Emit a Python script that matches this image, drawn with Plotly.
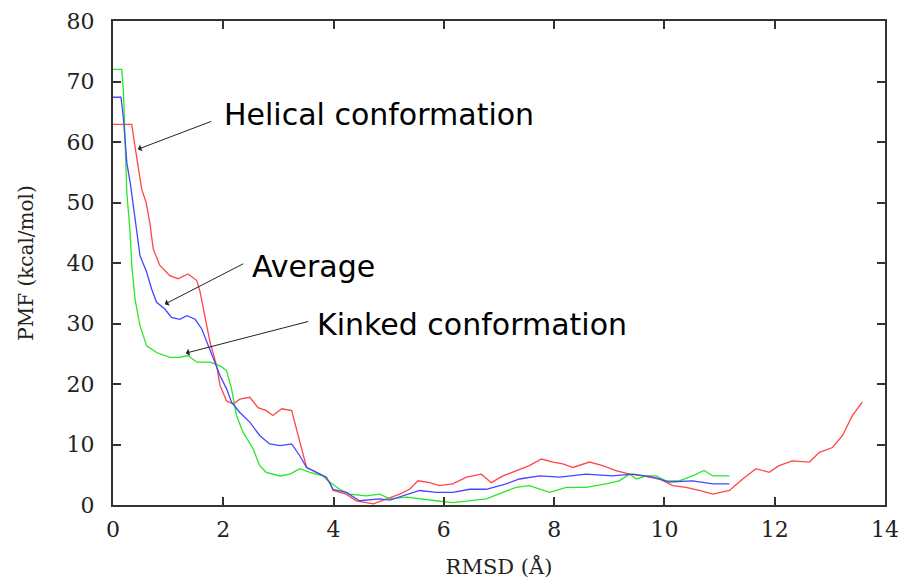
import plotly.graph_objects as go

# Helical conformation (red)
helical_x = [0, 0.34, 0.40, 0.52, 0.60, 0.67, 0.73, 0.85, 1.03, 1.18, 1.36, 1.52, 1.58, 1.70, 1.76, 1.88, 1.94,
             2.06, 2.18, 2.30, 2.48, 2.63, 2.78, 2.90, 3.06, 3.24, 3.33, 3.42, 3.51, 3.63, 3.81, 3.93, 3.99,
             4.23, 4.41, 4.72, 4.96, 5.20, 5.38, 5.53, 5.74, 5.92, 6.16, 6.41, 6.68, 6.86, 7.07, 7.31, 7.55,
             7.77, 7.98, 8.16, 8.34, 8.64, 8.88, 9.12, 9.37, 9.61, 9.91, 10.15, 10.39, 10.63, 10.88, 11.18,
             11.42, 11.66, 11.90, 12.08, 12.32, 12.63, 12.81, 13.05, 13.23, 13.41, 13.59]
helical_y = [62.9, 62.9, 59.2, 52.2, 50.0, 46.5, 42.3, 39.6, 37.9, 37.4, 38.2, 37.1, 35.2, 29.6, 26.9, 23.0, 19.8,
             17.2, 16.7, 17.5, 17.8, 16.1, 15.6, 14.8, 15.9, 15.6, 12.6, 9.3, 6.2, 5.7, 4.8, 3.8, 2.4,
             1.8, 0.7, 0.2, 1.0, 1.8, 2.6, 4.0, 3.7, 3.2, 3.5, 4.6, 5.1, 3.7, 4.8, 5.7, 6.5,
             7.6, 7.1, 6.8, 6.2, 7.1, 6.5, 5.7, 5.1, 4.8, 4.3, 3.2, 2.9, 2.4, 1.8, 2.4,
             4.3, 6.0, 5.4, 6.5, 7.3, 7.1, 8.7, 9.5, 11.5, 14.8, 17.0]

# Average (blue)
average_x = [0, 0.145, 0.19, 0.25, 0.32, 0.38, 0.43, 0.49, 0.61, 0.70, 0.79, 0.94, 1.06, 1.21, 1.34, 1.49, 1.61,
             1.73, 1.85, 1.94, 2.06, 2.15, 2.30, 2.48, 2.66, 2.84, 3.03, 3.24, 3.39, 3.51, 3.69, 3.87, 3.99,
             4.23, 4.47, 4.84, 5.02, 5.26, 5.56, 5.86, 6.16, 6.47, 6.77, 7.13, 7.37, 7.74, 8.10, 8.58, 9.06,
             9.43, 9.79, 10.09, 10.51, 10.88, 11.18]
average_y = [67.4, 67.4, 63.8, 56.6, 52.8, 48.4, 45.1, 41.2, 38.5, 35.7, 33.5, 32.4, 31.0, 30.7, 31.3, 30.7, 29.1,
             26.3, 23.3, 21.4, 19.2, 17.0, 15.3, 13.7, 11.5, 10.1, 9.8, 10.1, 8.1, 6.2, 5.4, 4.6, 2.6,
             2.1, 0.7, 1.0, 0.8, 1.5, 2.4, 2.1, 2.1, 2.6, 2.6, 3.5, 4.3, 4.8, 4.6, 5.1, 4.8,
             5.1, 4.6, 3.8, 4.0, 3.5, 3.5]

# Kinked conformation (green)
kinked_x = [0, 0.16, 0.19, 0.22, 0.25, 0.31, 0.34, 0.40, 0.49, 0.61, 0.79, 1.03, 1.21, 1.36, 1.52, 1.76, 1.94,
            2.06, 2.15, 2.24, 2.36, 2.54, 2.66, 2.78, 3.03, 3.21, 3.39, 3.57, 3.81, 3.93, 4.11, 4.29, 4.59,
            4.84, 5.02, 5.32, 5.56, 5.86, 6.16, 6.47, 6.77, 7.07, 7.31, 7.55, 7.74, 7.92, 8.22, 8.58, 8.94,
            9.18, 9.37, 9.49, 9.67, 9.85, 10.03, 10.27, 10.51, 10.72, 10.88, 11.18]
kinked_y = [72.0, 72.0, 68.2, 59.9, 51.7, 45.1, 39.6, 34.0, 29.6, 26.3, 25.2, 24.4, 24.4, 24.7, 23.6, 23.6, 23.0,
            22.2, 19.2, 14.8, 12.0, 9.3, 6.5, 5.4, 4.8, 5.1, 6.0, 5.4, 4.8, 3.8, 2.6, 1.8, 1.5,
            1.8, 1.0, 1.3, 1.0, 0.7, 0.4, 0.7, 1.0, 2.1, 2.9, 3.2, 2.6, 2.1, 2.9, 2.9, 3.5,
            4.0, 5.1, 4.3, 4.8, 4.8, 4.0, 4.0, 4.8, 5.7, 4.8, 4.8]

x_ticks = [0, 2, 4, 6, 8, 10, 12, 14]
y_ticks = [0, 10, 20, 30, 40, 50, 60, 70, 80]

fig = go.Figure()
fig.add_trace(go.Scatter(x=helical_x, y=helical_y, mode="lines",
                         line=dict(color="rgb(255,70,70)", width=1.3), name="Helical"))
fig.add_trace(go.Scatter(x=kinked_x, y=kinked_y, mode="lines",
                         line=dict(color="rgb(40,230,40)", width=1.3), name="Kinked"))
fig.add_trace(go.Scatter(x=average_x, y=average_y, mode="lines",
                         line=dict(color="rgb(70,70,255)", width=1.3), name="Average"))

labels = [
    ("Helical conformation", 1.97, 64.6, 1.81, 63.5, 0.45, 58.8),
    ("Average", 2.48, 39.5, 2.39, 40.0, 0.94, 33.2),
    ("Kinked conformation", 3.66, 29.9, 3.57, 30.4, 1.32, 25.1),
]
for text, tx, ty, ax_, ay_, hx, hy in labels:
    fig.add_annotation(x=tx, y=ty, text=text, showarrow=False, xanchor="left", yanchor="middle",
                       font=dict(family="DejaVu Sans", size=30, color="black"))
    fig.add_annotation(x=hx, y=hy, ax=ax_, ay=ay_, axref="x", ayref="y", text="",
                       showarrow=True, arrowhead=1, arrowsize=1.2, arrowwidth=1, arrowcolor="#222")

axis_common = dict(showline=True, linecolor="#333", linewidth=2, mirror="allticks",
                   ticks="inside", ticklen=8, tickwidth=1.5, tickcolor="#333",
                   showgrid=False, zeroline=False, automargin=False,
                   tickfont=dict(family="DejaVu Serif", size=22, color="#222"))

fig.update_layout(
    width=907, height=579,
    margin=dict(l=105, r=30, t=13, b=82),
    paper_bgcolor="white", plot_bgcolor="white",
    showlegend=False,
    xaxis=dict(range=[0, 14], tickvals=x_ticks, ticktext=[str(v) for v in x_ticks],
               title=dict(text="RMSD (Å)", font=dict(family="DejaVu Serif", size=21, color="#222"),
                          standoff=18),
               ticklabelstandoff=4, **axis_common),
    yaxis=dict(range=[0, 80], tickvals=y_ticks, ticktext=[str(v) for v in y_ticks],
               title=dict(text="PMF (kcal/mol)", font=dict(family="DejaVu Serif", size=20, color="#222"),
                          standoff=28),
               ticklabelstandoff=12, **axis_common),
)

fig.write_html("out.html")
